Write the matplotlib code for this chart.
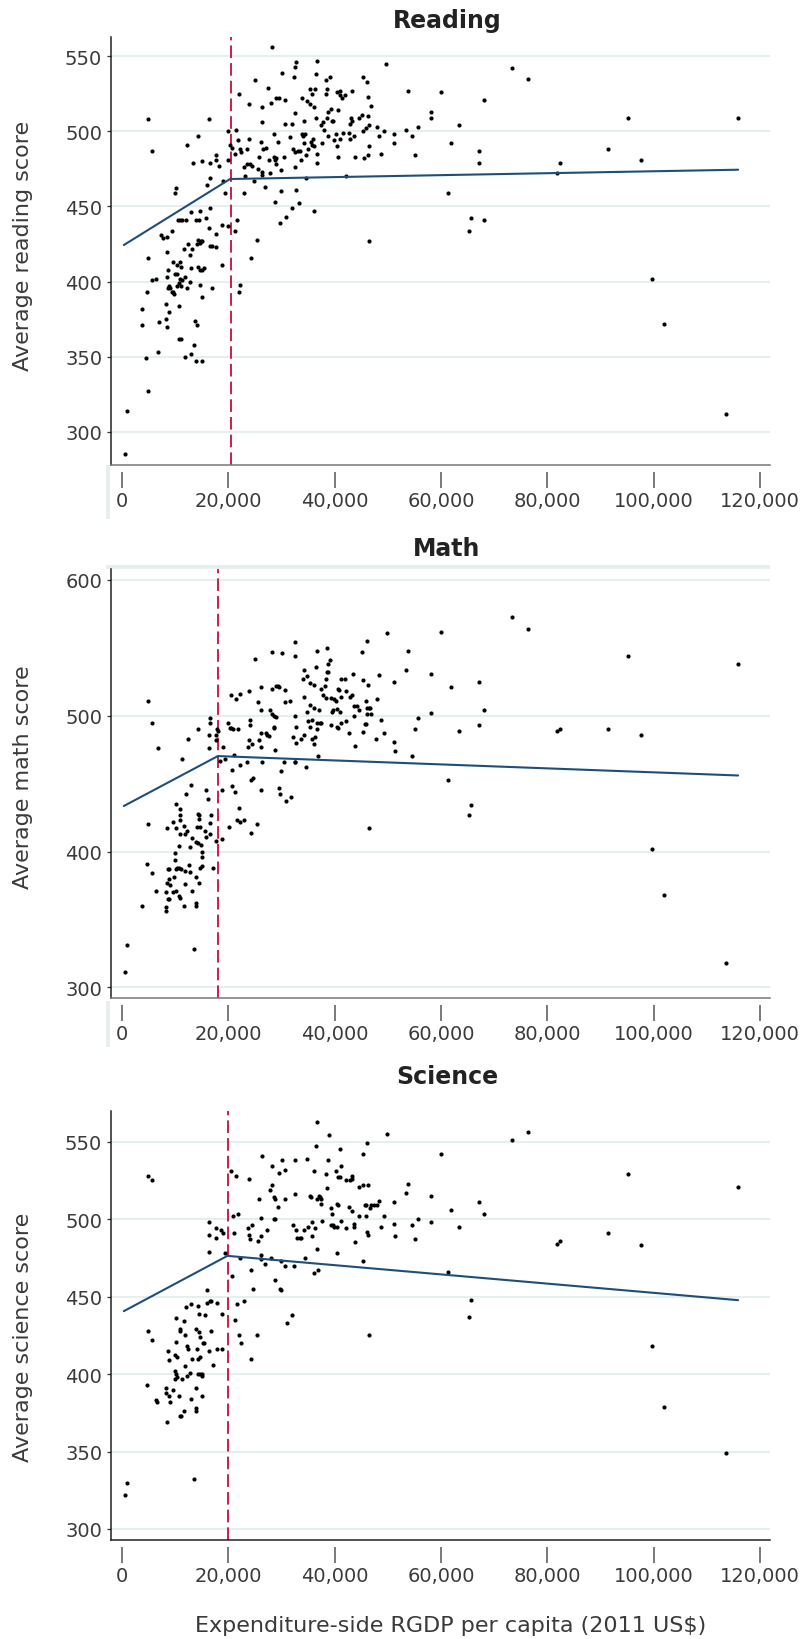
import numpy as np
import matplotlib
matplotlib.use("Agg")
import matplotlib.pyplot as plt
from matplotlib.patches import Rectangle
from matplotlib.ticker import FuncFormatter

plt.rcParams['font.family'] = ['DejaVu Sans']

# (RGDP per capita in 2011 US$, average score)
reading_pts = [
    (600, 285), (900, 314), (4900, 508), (5600, 487), (4900, 416), (4900, 327), (4500, 349), (4600, 393),
    (3700, 382), (3800, 371), (5600, 401), (6300, 402), (6700, 353), (6900, 373), (7300, 431), (7600, 429),
    (8500, 430), (9400, 434), (8500, 420), (8300, 385), (8900, 380), (8200, 375), (8500, 370), (10200, 462),
    (10000, 459), (8700, 408), (8400, 403), (8900, 397), (8600, 396), (9000, 396), (9300, 393), (9600, 393),
    (9800, 392), (9500, 413), (10000, 405), (10300, 411), (10400, 405), (10900, 413), (11000, 410), (10800, 402),
    (10700, 399), (10300, 397), (11100, 397), (11200, 401), (10700, 384), (10700, 362), (11000, 362), (10500, 441),
    (10900, 441), (11300, 441), (12200, 491), (11700, 422), (12000, 441), (12400, 425), (13000, 446), (13400, 479),
    (12800, 418), (13200, 422), (11900, 403), (12200, 396), (11800, 350), (13000, 352), (13600, 358), (13800, 347),
    (15000, 347), (13700, 374), (14000, 371), (12900, 409), (12700, 400), (14200, 497), (13900, 441), (14400, 441),
    (14600, 447), (14000, 425), (14300, 428), (14600, 426), (14900, 427), (15100, 427), (14300, 410), (14600, 408),
    (15000, 408), (15400, 409), (14600, 398), (15100, 390), (15100, 480), (15700, 442), (15900, 464), (16300, 436),
    (16400, 508), (16500, 479), (16600, 469), (16600, 449), (16500, 424), (16900, 424), (16900, 396), (17700, 484),
    (17700, 481), (17700, 423), (17700, 432), (18300, 477), (19000, 467), (18700, 411), (18800, 438), (19400, 459),
    (19900, 500), (20000, 481), (20000, 437), (20300, 491), (20700, 489), (21200, 434), (21300, 485), (21500, 501),
    (21600, 441), (21900, 525), (21800, 494), (22000, 393), (22200, 398), (22200, 488), (22300, 486), (22900, 459),
    (23000, 476), (23200, 470), (23400, 478), (23500, 488), (23900, 495), (23900, 518), (24100, 478), (24300, 416),
    (24500, 477), (24800, 467), (25000, 534), (25300, 428), (25500, 475), (25700, 483), (26100, 493), (26300, 471),
    (26300, 473), (26400, 506), (26400, 516), (26500, 488), (26800, 463), (27100, 489), (27500, 529), (27700, 481),
    (27900, 472), (28000, 519), (28200, 556), (28500, 498), (28600, 483), (28800, 481), (29000, 482), (28700, 453),
    (28900, 478), (29000, 522), (29300, 493), (29600, 522), (29700, 439), (29800, 474), (29900, 460), (30100, 539),
    (30600, 521), (30600, 505), (30500, 483), (30900, 443), (31600, 496), (31900, 449), (32000, 505), (32100, 488),
    (32400, 536), (32500, 512), (32500, 486), (32700, 546), (32600, 543), (32600, 476), (32800, 461), (33100, 487),
    (33500, 487), (33300, 452), (33600, 481), (33900, 498), (34100, 497), (34400, 498), (33900, 522), (34200, 507),
    (34300, 492), (34600, 469), (34600, 484), (34800, 520), (35000, 488), (35300, 518), (35500, 493), (35700, 491),
    (35900, 495), (36100, 490), (35400, 528), (35800, 525), (36100, 516), (36000, 447), (36300, 528), (36500, 538),
    (36700, 547), (36500, 509), (36700, 485), (36700, 479), (37500, 504), (37800, 506), (37600, 492), (37900, 501),
    (38400, 534), (38400, 525), (38500, 528), (38600, 509), (38800, 513), (38800, 497), (39100, 536), (39200, 515),
    (39500, 507), (39700, 507), (39800, 494), (40200, 498), (40400, 490), (40500, 526), (40600, 483), (40700, 514),
    (40900, 524), (41000, 527), (41000, 495), (41400, 522), (41600, 499), (41900, 524), (42200, 470), (42600, 499),
    (42800, 495), (43000, 509), (43200, 507), (42900, 505), (43300, 527), (43600, 497), (43800, 483), (44600, 509),
    (45100, 511), (45300, 536), (45300, 500), (45500, 482), (45800, 502), (46100, 533), (46200, 523), (46200, 510),
    (46400, 504), (46500, 490), (46200, 484), (46400, 427), (46800, 517), (48000, 503), (48400, 497), (48700, 485),
    (49200, 500), (49700, 545), (51100, 498), (51100, 492), (53800, 527), (53400, 501), (54600, 497), (55700, 503),
    (55100, 484), (58100, 513), (58100, 509), (59900, 526), (61300, 459), (61800, 492), (63300, 504), (65200, 434),
    (65600, 442), (67200, 487), (67200, 479), (68100, 521), (68100, 441), (73300, 542), (76400, 535), (81900, 472),
    (82400, 479), (91500, 488), (95100, 509), (97600, 481), (99700, 402), (101900, 372), (113600, 312), (115900, 509),
]

math_pts = [
    (600, 311), (900, 331), (4900, 511), (5600, 495), (6700, 476), (4900, 420), (3700, 360), (4600, 391),
    (5600, 384), (6400, 371), (8200, 359), (8300, 356), (8300, 370), (8400, 377), (8600, 365), (8900, 365),
    (9000, 375), (8800, 380), (8600, 387), (8900, 387), (9500, 370), (9800, 381), (10000, 394), (10000, 399),
    (10400, 388), (10200, 387), (10600, 388), (10600, 367), (10800, 366), (10200, 371), (8500, 417), (9500, 422),
    (10200, 417), (10600, 404), (10200, 435), (10800, 427), (10900, 431), (10800, 423), (11200, 468), (10800, 413),
    (11100, 387), (11600, 419), (11900, 413), (12200, 415), (11900, 386), (11900, 376), (11700, 360), (12000, 442),
    (12300, 483), (12500, 390), (12800, 385), (12800, 403), (12900, 449), (13100, 410), (13100, 371), (13600, 328),
    (13800, 362), (13900, 360), (13800, 381), (13900, 407), (14200, 406), (14000, 418), (14200, 490), (14300, 428),
    (14400, 427), (14400, 424), (14400, 377), (14700, 418), (14800, 405), (14600, 388), (15000, 389), (15100, 400),
    (15100, 396), (15600, 415), (15700, 411), (15800, 445), (16100, 439), (16400, 476), (16500, 495), (16600, 498),
    (16400, 486), (16500, 413), (16600, 421), (16800, 427), (17000, 388), (17700, 486), (17800, 490), (17600, 482),
    (17700, 408), (18000, 489), (18400, 467), (18700, 409), (18800, 445), (19000, 477), (19300, 468), (20100, 418),
    (19900, 495), (20200, 491), (20500, 491), (20800, 490), (20400, 515), (20700, 460), (20600, 448), (21000, 471),
    (21200, 444), (21500, 512), (21800, 490), (22000, 432), (22200, 464), (22200, 516), (21600, 423), (22200, 422),
    (23000, 423), (23400, 466), (23700, 477), (23900, 518), (24000, 493), (24000, 497), (23900, 482), (24200, 414),
    (24300, 453), (24700, 454), (24500, 479), (25000, 542), (25400, 420), (25600, 510), (25700, 482), (26100, 477),
    (26100, 487), (26200, 504), (26200, 521), (26300, 466), (26100, 445), (27000, 487), (27300, 486), (27700, 485),
    (27900, 504), (28100, 520), (28200, 547), (28200, 501), (28600, 500), (28900, 499), (28600, 492), (28500, 491),
    (28700, 475), (29000, 522), (29300, 522), (29600, 521), (29600, 447), (29700, 442), (29900, 459), (30100, 546),
    (30500, 466), (30700, 519), (30700, 510), (30900, 437), (31600, 511), (31800, 440), (32100, 484), (32500, 500),
    (32500, 554), (32600, 544), (32500, 466), (32600, 466), (32800, 492), (32800, 480), (33600, 483), (34200, 514),
    (34000, 527), (34300, 534), (34500, 462), (34300, 486), (34700, 503), (34700, 529), (34900, 496), (35300, 524),
    (35300, 492), (35400, 508), (35700, 483), (35800, 497), (36000, 523), (36000, 506), (36100, 479), (36200, 484),
    (36400, 536), (36600, 490), (36700, 495), (36700, 548), (36800, 470), (37000, 504), (37200, 495), (37400, 495),
    (37500, 520), (37700, 515), (38100, 522), (38400, 527), (38400, 513), (38500, 532), (38800, 532), (38600, 550),
    (38800, 538), (39100, 541), (39200, 513), (39300, 493), (39500, 503), (39700, 504), (39900, 512), (40300, 511),
    (40400, 505), (40500, 492), (40700, 491), (40700, 520), (40800, 519), (41000, 503), (41100, 514), (41100, 527),
    (41200, 495), (41900, 527), (42200, 496), (42100, 518), (42600, 487), (42900, 514), (43200, 515), (43400, 531),
    (43700, 507), (44100, 507), (43700, 500), (43900, 478), (44600, 504), (45200, 547), (45300, 526), (45400, 488),
    (45700, 494), (45900, 494), (45800, 511), (46100, 555), (46000, 506), (46400, 506), (46600, 506), (46300, 523),
    (46100, 501), (46900, 501), (46400, 417), (47700, 483), (48000, 512), (48300, 530), (48700, 497), (49200, 487),
    (49800, 561), (51100, 525), (51200, 481), (51300, 474), (53400, 534), (53800, 548), (54600, 470), (55100, 490),
    (55700, 498), (58100, 531), (58100, 502), (59900, 562), (61300, 453), (61800, 521), (63300, 489), (65200, 427),
    (65700, 434), (67200, 525), (67200, 493), (68000, 504), (73300, 573), (76400, 564), (81900, 489), (82400, 490),
    (91500, 490), (95100, 544), (97600, 486), (99700, 402), (101900, 368), (113600, 318), (115900, 538),
]

science_pts = [
    (600, 322), (900, 330), (4900, 528), (5600, 525), (4900, 428), (5600, 422), (4600, 393), (6400, 383),
    (6600, 382), (8500, 369), (8300, 391), (8300, 388), (8900, 386), (9000, 382), (9500, 390), (8700, 415),
    (8900, 409), (10000, 412), (10400, 411), (10200, 421), (10100, 436), (9900, 402), (10200, 400), (9900, 397),
    (10300, 398), (10700, 386), (10800, 373), (11000, 373), (11200, 397), (10800, 428), (10900, 429), (11700, 434),
    (11700, 376), (11900, 425), (11900, 405), (12100, 443), (12200, 418), (12400, 416), (12200, 399), (12800, 401),
    (12900, 445), (13000, 384), (13200, 410), (13600, 332), (13800, 391), (13800, 378), (13900, 376), (13800, 429),
    (14000, 416), (14300, 444), (14300, 410), (14600, 411), (14300, 400), (14600, 400), (15000, 400), (15100, 399),
    (14400, 439), (14400, 427), (14600, 424), (15000, 386), (15200, 420), (15400, 420), (15600, 438), (15900, 454),
    (16000, 446), (16500, 447), (16700, 447), (16400, 415), (16400, 498), (16400, 490), (16400, 479), (16800, 428),
    (17000, 406), (17600, 494), (17700, 488), (17800, 446), (17800, 416), (18500, 493), (18700, 416), (18800, 439),
    (19000, 491), (19300, 478), (20400, 531), (20600, 463), (20800, 502), (21100, 491), (21200, 435), (21500, 528),
    (21600, 445), (21800, 503), (22000, 425), (22200, 475), (22400, 420), (23000, 447), (23700, 494), (23900, 526),
    (23900, 490), (24000, 487), (24200, 467), (24200, 410), (24500, 496), (24700, 455), (25300, 425), (25600, 486),
    (25700, 513), (26100, 489), (26200, 501), (26300, 541), (26100, 477), (26200, 474), (26900, 471), (27200, 493),
    (27900, 519), (28000, 475), (28100, 534), (28200, 522), (28500, 514), (28800, 513), (28600, 500), (28800, 500),
    (28700, 461), (29300, 508), (29600, 530), (29700, 455), (29800, 454), (29900, 473), (30100, 538), (30600, 470),
    (30700, 532), (30700, 513), (31000, 433), (31900, 438), (32100, 496), (32500, 538), (32500, 516), (32400, 470),
    (32800, 493), (32900, 488), (33400, 488), (33700, 488), (34200, 493), (34400, 475), (34700, 539), (34900, 495),
    (35300, 515), (35500, 514), (35700, 489), (35800, 498), (36000, 531), (36100, 465), (36200, 494), (36400, 547),
    (36600, 513), (36700, 481), (36800, 467), (36700, 563), (37000, 515), (37200, 514), (37400, 513), (37500, 510),
    (37600, 499), (38400, 529), (38500, 520), (38800, 538), (39000, 554), (39200, 507), (39200, 496), (39600, 496),
    (39500, 503), (39900, 495), (40300, 531), (40400, 510), (40500, 478), (40500, 495), (40700, 509), (40600, 527),
    (40900, 527), (40900, 545), (41200, 534), (41200, 499), (42100, 525), (42200, 494), (42600, 508), (42900, 525),
    (43200, 526), (43300, 528), (43200, 505), (43700, 497), (43700, 495), (43900, 485), (44500, 502), (44600, 521),
    (45300, 522), (45300, 542), (45300, 473), (45600, 509), (45900, 509), (45800, 502), (46000, 492), (46200, 490),
    (46100, 549), (46200, 522), (46400, 425), (46600, 507), (46800, 509), (47400, 509), (48000, 509), (48300, 512),
    (48700, 495), (49200, 502), (49800, 555), (51100, 511), (51200, 497), (51300, 489), (53400, 517), (53800, 523),
    (54600, 496), (55100, 487), (55700, 500), (58100, 515), (58100, 498), (59900, 542), (61300, 466), (61800, 506),
    (63300, 495), (65200, 437), (65700, 448), (67200, 511), (68000, 503), (73300, 551), (76400, 556), (81900, 484),
    (82400, 486), (91500, 491), (95100, 529), (97600, 483), (99700, 418), (101900, 379), (113600, 349), (115900, 521),
]

# piecewise fits: start, kink, end
reading_fit_x = [300, 20300, 115900]
reading_fit_y = [424.3, 468.3, 474.5]
math_fit_x = [300, 18000, 115900]
math_fit_y = [433.5, 470.3, 456.0]
science_fit_x = [300, 19800, 115900]
science_fit_y = [440.6, 476.3, 447.7]

reading_cut = 20500
math_cut = 18000
science_cut = 20000

titles = ["Reading", "Math", "Science"]
ylabels = ["Average reading score", "Average math score", "Average science score"]
xlabel = "Expenditure-side RGDP per capita (2011 US$)"
xticks = [0, 20000, 40000, 60000, 80000, 100000, 120000]
yticks = [[300, 350, 400, 450, 500, 550], [300, 400, 500, 600], [300, 350, 400, 450, 500, 550]]

W, H = 801, 1640
fig = plt.figure(figsize=(W / 100, H / 100), dpi=100)

# panel layout in pixels: (left, top, right, bottom), y limits, title baseline, ylabel centre
layout = [
    ((110.5, 38.0, 770, 466.0), (277.8, 562.9), 28, 246, '#777777'),
    ((110.5, 570.0, 770, 999.0), (292.1, 608.1), 556, 777, '#777777'),
    ((110.5, 1111.7, 770, 1541.3), (292.7, 570.0), 1084, 1337, '#222222'),
]
data = [
    (reading_pts, reading_fit_x, reading_fit_y, reading_cut),
    (math_pts, math_fit_x, math_fit_y, math_cut),
    (science_pts, science_fit_x, science_fit_y, science_cut),
]

grid_col = '#e7eeee'
text_col = '#3a3a3a'

for i, ((box, ylim, title_y, ylab_y, base_col), (pts, fx, fy, cut)) in enumerate(zip(layout, data)):
    l, t, r, b = box
    ax = fig.add_axes([l / W, 1 - b / H, (r - l) / W, (b - t) / H])
    xy = np.array(pts)
    ax.scatter(xy[:, 0], xy[:, 1], s=9, c='black', linewidths=0, zorder=3)
    ax.plot(fx, fy, color='#1f4e79', lw=1.5, zorder=4, solid_capstyle='round')
    ax.axvline(cut, color='#cc1d4a', lw=1.4, ls=(0, (6.5, 2.6)), zorder=2)

    ax.set_xlim(-2200, 121900)
    ax.set_ylim(*ylim)
    ax.set_xticks(xticks)
    ax.set_yticks(yticks[i])
    ax.xaxis.set_major_formatter(FuncFormatter(lambda v, p: f"{int(v):,}"))
    ax.grid(axis='y', color=grid_col, lw=1.5)
    ax.set_axisbelow(True)

    for s in ['top', 'right']:
        ax.spines[s].set_visible(False)
    ax.spines['left'].set_color('#222222')
    ax.spines['left'].set_linewidth(1.1)
    # detached x ticks below the axis line
    ax.spines['bottom'].set_position(('outward', 5))
    ax.spines['bottom'].set_visible(False)
    ax.axhline(ylim[0], color=base_col, lw=1.1, clip_on=False, zorder=5)

    ax.tick_params(axis='x', length=11.5, width=1.1, color='#555555', pad=2,
                   labelsize=14, labelcolor=text_col)
    ax.tick_params(axis='y', length=3, width=0.9, color='#333333', pad=3,
                   labelsize=14, labelcolor=text_col)

    fig.text(447 / W, 1 - title_y / H, titles[i], ha='center', va='baseline',
             fontsize=17, fontweight='bold', color='#222222')
    fig.text(29 / W, 1 - ylab_y / H, ylabels[i], rotation=90, rotation_mode='anchor',
             ha='center', va='baseline', fontsize=16, color=text_col)

fig.text(451 / W, 1 - 1626 / H, xlabel, ha='center', va='center', fontsize=16, color=text_col)

# pale strips left over around the upper panels
for (x0, y0, x1, y1) in [(106, 466, 110, 520), (106, 565.5, 770, 569.5), (106, 1002, 110, 1048)]:
    fig.add_artist(Rectangle((x0 / W, 1 - y1 / H), (x1 - x0) / W, (y1 - y0) / H,
                             transform=fig.transFigure, color=grid_col, lw=0, zorder=0))

fig.savefig("out.png", dpi=100)
